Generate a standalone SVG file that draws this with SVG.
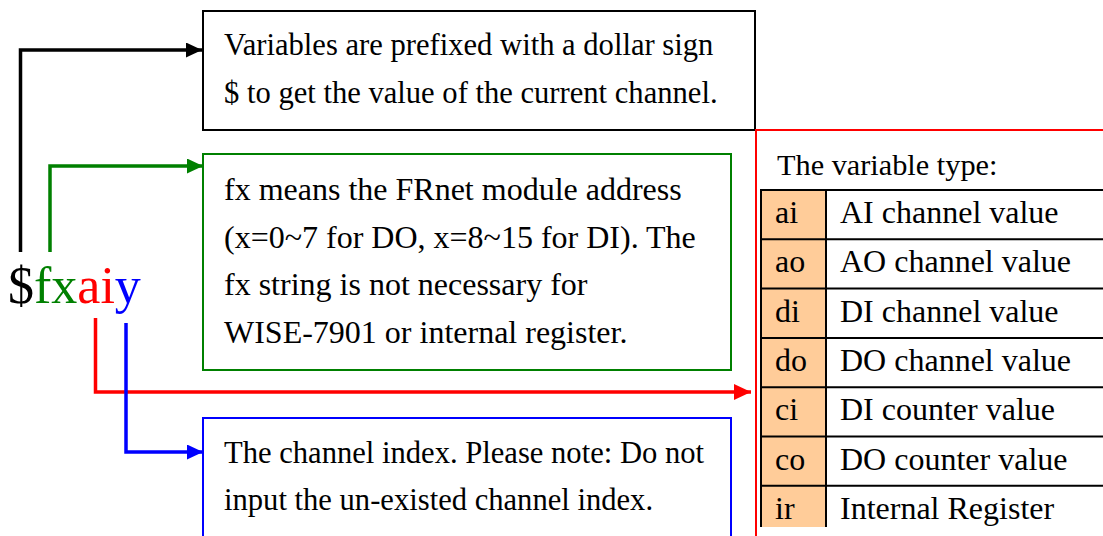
<svg xmlns="http://www.w3.org/2000/svg" width="1103" height="536" viewBox="0 0 1103 536">
<style>
text{font-family:"Liberation Serif","Times New Roman",serif;fill:#000}
.t{font-size:30.6px}
.g{font-size:32px}
.r{font-size:32px}
.box{fill:#fff;stroke-width:2}
.cell{fill:#FFCC99}
.grid{stroke:#000;stroke-width:2;fill:none}
.con{fill:none;stroke-width:3.5}
</style>
<defs>
<marker id="ak" markerUnits="userSpaceOnUse" markerWidth="16" markerHeight="16" refX="16" refY="7.5" orient="auto"><path d="M0,0 L16,7.5 L0,15 z" fill="#000"/></marker>
<marker id="ag" markerUnits="userSpaceOnUse" markerWidth="16" markerHeight="16" refX="16" refY="7.5" orient="auto"><path d="M0,0 L16,7.5 L0,15 z" fill="#008000"/></marker>
<marker id="ar" markerUnits="userSpaceOnUse" markerWidth="18" markerHeight="18" refX="17" refY="8" orient="auto"><path d="M0,0 L17,8 L0,16 z" fill="#FF0000"/></marker>
<marker id="ab" markerUnits="userSpaceOnUse" markerWidth="16" markerHeight="16" refX="16" refY="7.5" orient="auto"><path d="M0,0 L16,7.5 L0,15 z" fill="#0000FF"/></marker>
</defs>

<g id="variable">
<text x="8" y="303" style="font-size:52px"><tspan fill="#000">$</tspan><tspan fill="#008000">fx</tspan><tspan fill="#FF0000">ai</tspan><tspan fill="#0000FF">y</tspan></text>
</g>

<g id="node-prefix">
<rect class="box" x="203" y="11" width="552" height="119" stroke="#000"/>
<text class="t" x="224" y="55">Variables are prefixed with a dollar sign</text>
<text class="t" x="224" y="103">$ to get the value of the current channel.</text>
</g>

<g id="node-fx">
<rect class="box" x="203" y="154" width="528" height="216" stroke="#008000"/>
<text class="g" x="224" y="200">fx means the FRnet module address</text>
<text class="g" x="224" y="247.5">(x=0~7 for DO, x=8~15 for DI). The</text>
<text class="g" x="224" y="295">fx string is not necessary for</text>
<text class="g" x="224" y="342.5">WISE-7901 or internal register.</text>
</g>

<g id="node-index">
<rect class="box" x="203" y="418" width="528" height="130" stroke="#0000FF"/>
<text class="t" x="224" y="463">The channel index. Please note: Do not</text>
<text class="t" x="224" y="510">input the un-existed channel index.</text>
</g>

<g id="node-type">
<path d="M756,536 V130 H1103" fill="none" stroke="#FF0000" stroke-width="2"/>
<text x="777" y="175" style="font-size:30.3px">The variable type:</text>
<rect class="cell" x="761" y="190" width="65" height="337"/>
<path class="grid" d="M761,527 V190 H1103 M826,190 V527 M761,239.3 H1103 M761,288.6 H1103 M761,337.9 H1103 M761,387.2 H1103 M761,436.5 H1103 M761,485.8 H1103"/>
<text class="r" x="775" y="223">ai</text><text class="r" x="840" y="223">AI channel value</text>
<text class="r" x="775" y="272.3">ao</text><text class="r" x="840" y="272.3">AO channel value</text>
<text class="r" x="775" y="321.6">di</text><text class="r" x="840" y="321.6">DI channel value</text>
<text class="r" x="775" y="370.9">do</text><text class="r" x="840" y="370.9">DO channel value</text>
<text class="r" x="775" y="420.2">ci</text><text class="r" x="840" y="420.2">DI counter value</text>
<text class="r" x="775" y="469.5">co</text><text class="r" x="840" y="469.5">DO counter value</text>
<text class="r" x="775" y="518.8">ir</text><text class="r" x="840" y="518.8">Internal Register</text>
</g>

<g id="connectors">
<path class="con" d="M20.5,252 V50 H202" stroke="#000" marker-end="url(#ak)"/>
<path class="con" d="M50,252 V166 H203" stroke="#008000" marker-end="url(#ag)"/>
<path class="con" d="M95.5,318 V392 H751" stroke="#FF0000" stroke-width="4" marker-end="url(#ar)"/>
<path class="con" d="M126,323 V452 H203" stroke="#0000FF" marker-end="url(#ab)"/>
</g>
</svg>
